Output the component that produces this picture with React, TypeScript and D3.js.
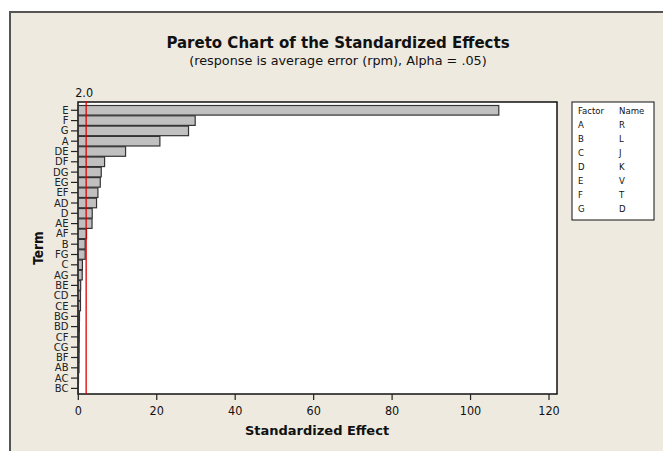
import React from "react";
import * as d3 from "d3";

const terms = ["E","F","G","A","DE","DF","DG","EG","EF","AD","D","AE","AF","B","FG","C","AG","BE","CD","CE","BG","BD","CF","CG","BF","AB","AC","BC"];
const effects = [107.2,29.8,28.1,20.8,12.05,6.7,5.85,5.6,5.0,4.65,3.55,3.5,2.1,1.75,1.75,1.05,1.0,0.6,0.55,0.55,0.3,0.28,0.25,0.22,0.2,0.18,0.05,0.03];
const xTicks = [0,20,40,60,80,100,120];
const alphaRef = 2.0;
const legendFactors = ["A","B","C","D","E","F","G"];
const legendNames = ["R","L","J","K","V","T","D"];

const W = 663, H = 451;
const plot = { left: 78, right: 557, top: 102, bottom: 394 };
const cond = "'DejaVu Sans Condensed', 'DejaVu Sans', sans-serif";
const sans = "'DejaVu Sans', sans-serif";

export default function App() {
  const x = d3.scaleLinear().domain([0, 120]).range([78.3, 549]);
  const y = d3.scaleBand<string>().domain(terms).range([105.5, 393.2]).paddingInner(0.07).paddingOuter(0);
  const bw = y.bandwidth();
  return (
    <svg width={W} height={H} style={{ position: "absolute", left: 0, top: 0, display: "block" }} fontFamily={cond}>
      <rect x={0} y={0} width={W} height={H} fill="#ffffff" />
      <rect x={10} y={12} width={W + 10} height={H + 10} fill="#EEEAE0" stroke="#555" strokeWidth={2} />
      <text x={338} y={48} textAnchor="middle" fontSize={15} fontWeight="bold" fontFamily={sans} fill="#111">Pareto Chart of the Standardized Effects</text>
      <text x={338} y={64.5} textAnchor="middle" fontSize={12.8} fontFamily={sans} fill="#111">(response is average error (rpm), Alpha = .05)</text>
      <rect x={plot.left} y={plot.top} width={plot.right - plot.left} height={plot.bottom - plot.top} fill="#fff" stroke="#111" strokeWidth={1.5} />
      {terms.map((t, i) => (
        <g key={t}>
          <rect x={x(0)} y={y(t)!} width={Math.max(0, x(effects[i]) - x(0))} height={bw} fill="#C0C0C0" stroke="#333" strokeWidth={1.2} />
          <line x1={71} x2={plot.left} y1={y(t)! + bw / 2} y2={y(t)! + bw / 2} stroke="#222" strokeWidth={1.2} />
          <text x={68.5} y={y(t)! + bw / 2 + 3.6} textAnchor="end" fontSize={10} fontFamily={sans} fill="#222">{t}</text>
        </g>
      ))}
      <line x1={x(alphaRef)} x2={x(alphaRef)} y1={plot.top - 1} y2={plot.bottom} stroke="#E00000" strokeWidth={1.3} />
      <text x={x(alphaRef) - 2} y={97} textAnchor="middle" fontSize={12.5} fill="#111">{alphaRef.toFixed(1)}</text>
      {xTicks.map((v) => (
        <g key={v}>
          <line x1={x(v)} x2={x(v)} y1={plot.bottom} y2={plot.bottom + 6} stroke="#222" strokeWidth={1.2} />
          <text x={x(v)} y={415} textAnchor="middle" fontSize={12.5} fill="#111">{v}</text>
        </g>
      ))}
      <text x={317} y={435} textAnchor="middle" fontSize={13} fontWeight="bold" fontFamily={sans} fill="#111">Standardized Effect</text>
      <text transform={`translate(43,248) rotate(-90)`} textAnchor="middle" fontSize={13.5} fontWeight="bold" fill="#111">Term</text>
      <rect x={572} y={102} width={82} height={118} fill="#fff" stroke="#111" strokeWidth={1} />
      <text x={578} y={114} fontSize={9.5} fill="#111">Factor</text>
      <text x={619} y={114} fontSize={9.5} fill="#111">Name</text>
      {legendFactors.map((f, i) => (
        <g key={f}>
          <text x={578} y={128 + i * 14} fontSize={9.5} fill="#111">{f}</text>
          <text x={619} y={128 + i * 14} fontSize={9.5} fill="#111">{legendNames[i]}</text>
        </g>
      ))}
    </svg>
  );
}
